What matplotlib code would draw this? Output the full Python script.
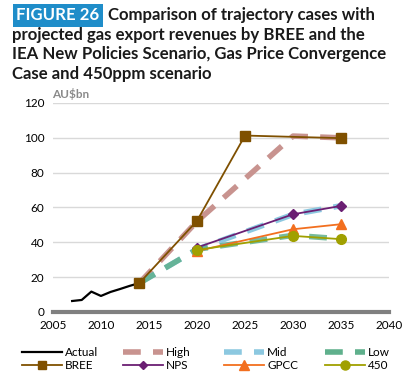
import matplotlib
matplotlib.use("Agg")
import matplotlib.pyplot as plt
from matplotlib.lines import Line2D

# ---- data ----
actual_years = [2007, 2008, 2009, 2010, 2011, 2012, 2013, 2014]
actual_vals = [6.3, 6.9, 11.7, 9.2, 11.5, 13.2, 15.0, 16.6]

case_years = [2014, 2020, 2030, 2035]
high_vals = [16.6, 52, 101, 100]
mid_vals = [16.6, 36, 56, 61]
low_vals = [16.6, 36, 44, 42]

bree_years = [2014, 2020, 2025, 2035]
bree_vals = [16.6, 52.3, 101.3, 99.8]

iea_years = [2020, 2030, 2035]
nps_vals = [37, 56.1, 60.9]
gpcc_vals = [35, 47.5, 50.4]
p450_vals = [35.6, 43.7, 41.8]

x_ticks = [2005, 2010, 2015, 2020, 2025, 2030, 2035, 2040]
y_ticks = [0, 20, 40, 60, 80, 100, 120]

plt.rcParams['font.family'] = ['Lato', 'DejaVu Sans']

fig = plt.figure(figsize=(4.07, 3.80), dpi=100)
ax = fig.add_axes([0.130, 0.179, 0.826, 0.550])

dash = (3.2, 2.2)
c_high = '#c8938f'
c_mid = '#8cc8e0'
c_low = '#5fb08c'
ax.plot(case_years, high_vals, color=c_high, lw=4, dashes=dash, zorder=2)
ax.plot(case_years, mid_vals, color=c_mid, lw=4, dashes=dash, zorder=2)
ax.plot(case_years, low_vals, color=c_low, lw=4, dashes=dash, zorder=2, alpha=0.85)

ax.plot(actual_years, actual_vals, color='black', lw=1.6, zorder=3)
c_bree = '#7f5000'
c_nps = '#6b1f73'
c_gpcc = '#f26f1f'
c_450 = '#a0a000'
ax.plot(bree_years, bree_vals, color=c_bree, lw=1.3, marker='s', ms=6.5, zorder=4)
ax.plot(iea_years, nps_vals, color=c_nps, lw=1.3, marker='D', ms=5, zorder=4)
ax.plot(iea_years, gpcc_vals, color=c_gpcc, lw=1.3, marker='^', ms=7, zorder=4)
ax.plot(iea_years, p450_vals, color=c_450, lw=1.3, marker='o', ms=7, zorder=4)

ax.set_xlim(2005, 2040)
ax.set_ylim(0, 120)
ax.set_xticks(x_ticks)
ax.set_yticks(y_ticks)
ax.tick_params(length=0, labelsize=8.5, pad=6)
ax.grid(axis='y', color='#d9d9d9', lw=1)
ax.set_axisbelow(True)
for s in ['top', 'right', 'left']:
    ax.spines[s].set_visible(False)
ax.spines['bottom'].set_color('#808080')
ax.spines['bottom'].set_linewidth(3)
ax.spines['bottom'].set_zorder(5)

# title
fs_t = 12.1
y0 = 0.960
fig.text(0.040, y0, 'FIGURE 26', fontsize=fs_t, fontweight='bold', color='white',
         va='center', ha='left',
         bbox=dict(boxstyle='square,pad=0.2', fc='#1f8dc9', ec='none'))
fig.text(0.266, y0, 'Comparison of trajectory cases with', fontsize=fs_t,
         fontweight='bold', color='#1a1a1a', va='center', ha='left')
for i, line in enumerate(['projected gas export revenues by BREE and the',
                          'IEA New Policies Scenario, Gas Price Convergence',
                          'Case and 450ppm scenario']):
    fig.text(0.029, y0 - (i + 1) * 0.0515, line, fontsize=fs_t, fontweight='bold',
             color='#1a1a1a', va='center', ha='left')

fig.text(0.128, 0.752, 'AU$bn', fontsize=8.5, fontweight='bold', color='#8a8a8a',
         va='center', ha='left')

handles = [
    Line2D([], [], color='black', lw=1.6),
    Line2D([], [], color=c_high, lw=4, dashes=dash),
    Line2D([], [], color=c_mid, lw=4, dashes=dash),
    Line2D([], [], color=c_low, lw=4, dashes=dash),
    Line2D([], [], color=c_bree, lw=1.3, marker='s', ms=6),
    Line2D([], [], color=c_nps, lw=1.3, marker='D', ms=4.5),
    Line2D([], [], color=c_gpcc, lw=1.3, marker='^', ms=6.5),
    Line2D([], [], color=c_450, lw=1.3, marker='o', ms=6.5),
]
labels = ['Actual', 'High', 'Mid', 'Low', 'BREE', 'NPS', 'GPCC', '450']
col_x = [22, 123, 224, 325]
for c in range(4):
    fig.legend([handles[c], handles[c + 4]], [labels[c], labels[c + 4]],
               loc='upper left', bbox_to_anchor=(col_x[c] / 407, 1 - 347 / 380),
               frameon=False, fontsize=8.5, handlelength=3.4, handletextpad=0.25,
               labelspacing=0.15, borderpad=0, borderaxespad=0)

fig.savefig('out.png', dpi=100)
